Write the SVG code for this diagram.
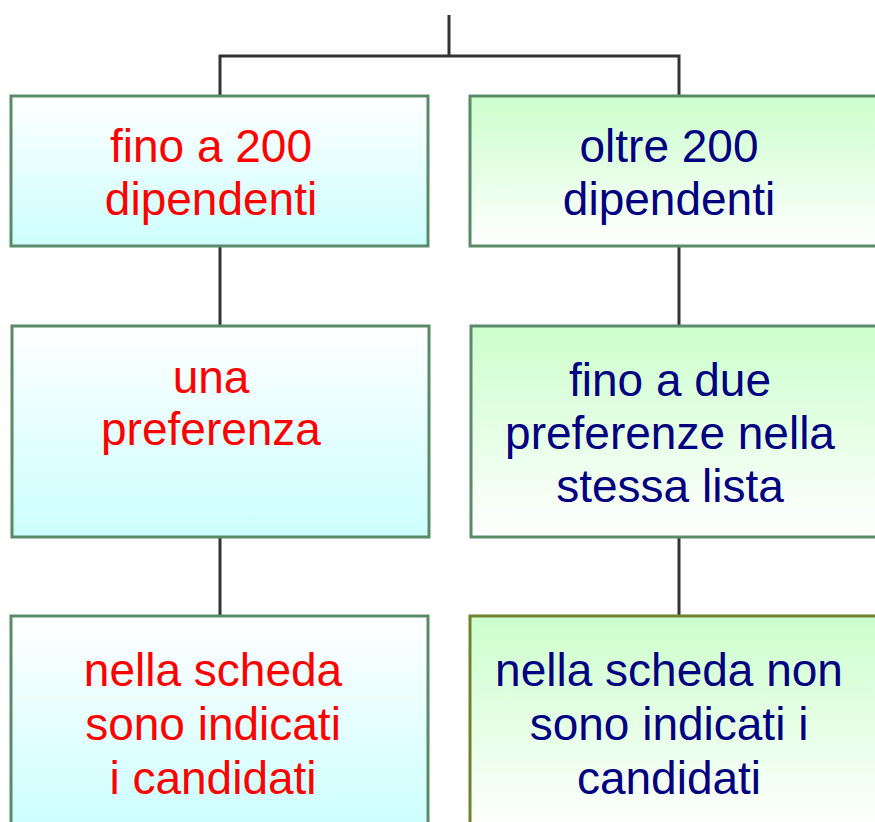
<svg xmlns="http://www.w3.org/2000/svg" width="875" height="822" viewBox="0 0 875 822">
<defs>
<linearGradient id="gBlue" x1="0" y1="0" x2="0" y2="1">
<stop offset="0" stop-color="#ffffff"/><stop offset="1" stop-color="#ccffff"/>
</linearGradient>
<linearGradient id="gGreen" x1="0" y1="0" x2="0" y2="1">
<stop offset="0" stop-color="#ccffcc"/><stop offset="1" stop-color="#ffffff"/>
</linearGradient>
<style>
.box{stroke:#5b8a68;stroke-width:3}
.left{fill:url(#gBlue)}
.right{fill:url(#gGreen)}
.olive{stroke:#6f8232}
.conn{stroke:#333333;stroke-width:3;fill:none}
text{font-family:"Liberation Sans",Arial,sans-serif;font-size:46px;text-anchor:middle}
.red{fill:#ff0000}
.navy{fill:#000080}
</style>
</defs>
<rect width="875" height="822" fill="#ffffff"/>
<g id="connectors">
<path class="conn" d="M449,15 V56 M220,96 V56 H679 V96"/>
<path class="conn" d="M220,246 V326 M220,537 V616 M679,246 V326 M679,537 V616"/>
</g>
<g id="n1">
<rect class="box left" x="11" y="96" width="417" height="150"/>
<text class="red" x="211" y="162">fino a 200</text>
<text class="red" x="211" y="215">dipendenti</text>
</g>
<g id="n2">
<rect class="box right" x="470" y="96" width="410" height="150"/>
<text class="navy" x="669" y="162">oltre 200</text>
<text class="navy" x="669" y="215">dipendenti</text>
</g>
<g id="n3">
<rect class="box left" x="12" y="326" width="417" height="211"/>
<text class="red" x="211" y="393">una</text>
<text class="red" x="211" y="445">preferenza</text>
</g>
<g id="n4">
<rect class="box right" x="471" y="326" width="410" height="211"/>
<text class="navy" x="670" y="396">fino a due</text>
<text class="navy" x="670" y="449">preferenze nella</text>
<text class="navy" x="670" y="502">stessa lista</text>
</g>
<g id="n5">
<rect class="box left" x="11" y="616" width="417" height="215"/>
<text class="red" x="213" y="686">nella scheda</text>
<text class="red" x="213" y="740">sono indicati</text>
<text class="red" x="213" y="794">i candidati</text>
</g>
<g id="n6">
<rect class="box right olive" x="470" y="616" width="410" height="215"/>
<text class="navy" x="669" y="686">nella scheda non</text>
<text class="navy" x="669" y="740">sono indicati i</text>
<text class="navy" x="669" y="794">candidati</text>
</g>
</svg>
